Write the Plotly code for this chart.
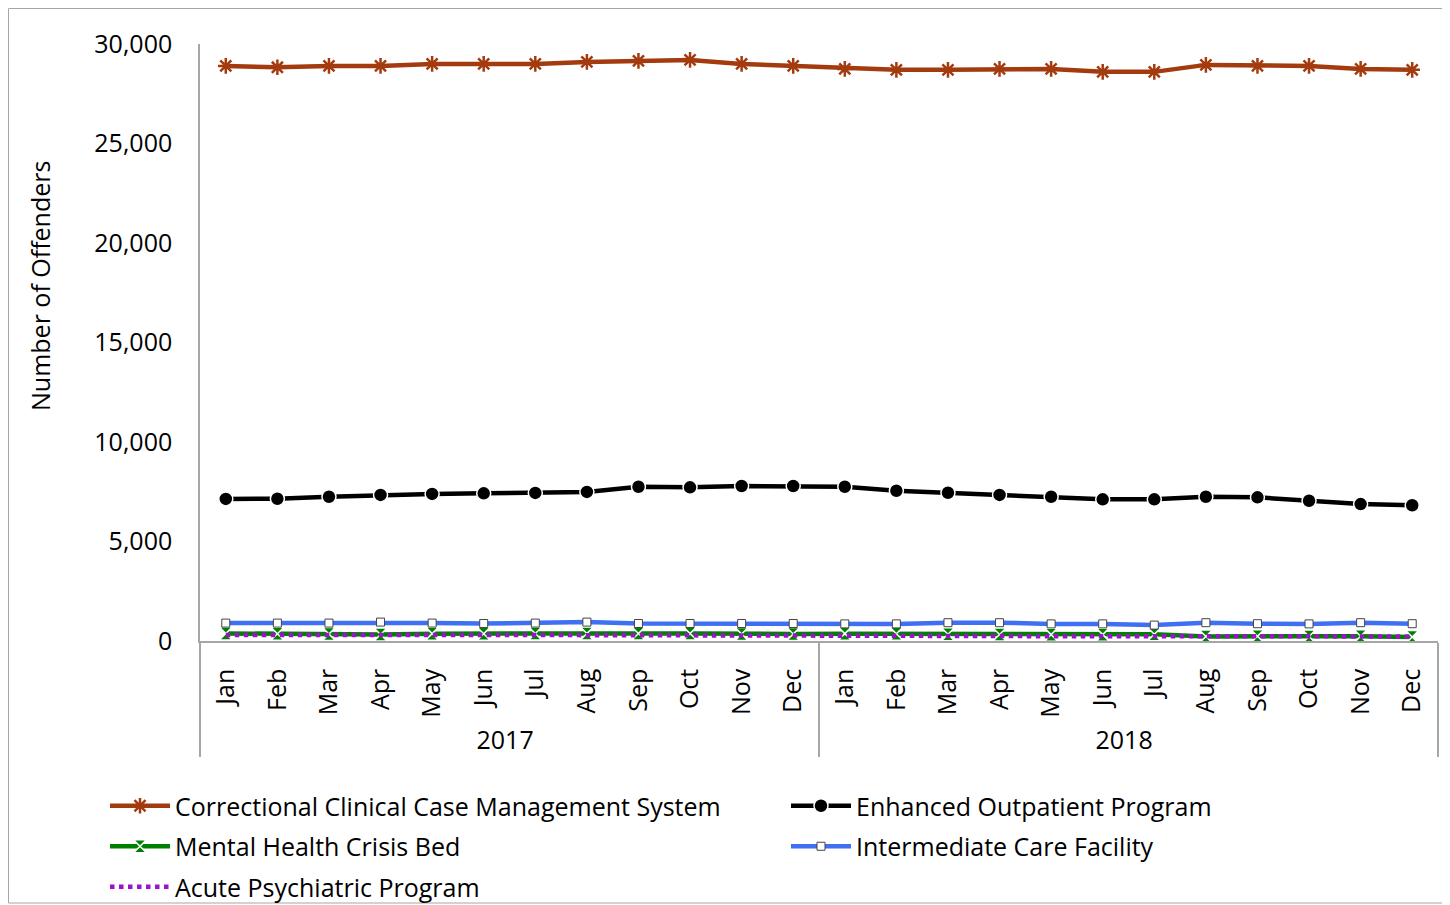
import plotly.graph_objects as go

years = ["2017"] * 12 + ["2018"] * 12
months = ["Jan", "Feb", "Mar", "Apr", "May", "Jun", "Jul", "Aug", "Sep", "Oct", "Nov", "Dec"] * 2

cccms = [28900, 28830, 28900, 28900, 29000, 29000, 29000, 29100, 29150, 29200, 29000, 28900,
         28750, 28700, 28700, 28750, 28750, 28600, 28600, 28950, 28900, 28900, 28750, 28700]
eop = [7140, 7150, 7250, 7340, 7390, 7420, 7440, 7490, 7750, 7720, 7790, 7790,
       7750, 7550, 7450, 7340, 7250, 7120, 7120, 7250, 7220, 7050, 6880, 6820]
mhcb = [380, 360, 350, 330, 370, 360, 380, 380, 380, 380, 350, 350,
        370, 360, 340, 330, 320, 320, 340, 230, 240, 230, 240, 200]
icf = [900, 900, 900, 950, 900, 880, 900, 950, 880, 880, 880, 880,
       860, 860, 920, 920, 860, 860, 800, 920, 870, 860, 920, 870]
app = [300, 290, 280, 280, 300, 300, 300, 300, 300, 290, 280, 290,
       290, 280, 260, 250, 240, 240, 260, 240, 240, 230, 230, 230]

x = [years, months]
font_family = "Open Sans"
fs = 25

fig = go.Figure()

fig.add_trace(go.Scatter(x=x, y=cccms, name="Correctional Clinical Case Management System",
                         mode="lines+markers", legend="legend", legendgroup="a",
                         line=dict(color="#A33B0F", width=4.5),
                         marker=dict(symbol="asterisk-open", size=13, color="#A33B0F",
                                     line=dict(color="#A33B0F", width=2.5))))
fig.add_trace(go.Scatter(x=x, y=eop, name="Enhanced Outpatient Program",
                         mode="lines+markers", legend="legend2", legendgroup="b",
                         line=dict(color="black", width=4.5),
                         marker=dict(symbol="circle", size=14, color="black",
                                     line=dict(color="white", width=1.5))))
fig.add_trace(go.Scatter(x=x, y=mhcb, name="Mental Health Crisis Bed",
                         mode="lines+markers", legend="legend", legendgroup="c",
                         line=dict(color="#008000", width=4.5),
                         marker=dict(symbol="hourglass", size=13, color="#008000",
                                     line=dict(color="white", width=1.5))))
fig.add_trace(go.Scatter(x=x, y=icf, name="Intermediate Care Facility",
                         mode="lines+markers", legend="legend2", legendgroup="d",
                         line=dict(color="#3F6FF2", width=4.5),
                         marker=dict(symbol="square", size=8, color="white",
                                     line=dict(color="#444444", width=1))))
fig.add_trace(go.Scatter(x=x, y=app, name="Acute Psychiatric Program",
                         mode="lines", legend="legend", legendgroup="e",
                         line=dict(color="#9A12C9", width=4.5, dash="dot")))

# page body has an 8px offset; plot area spans 1238 x 597 px
W, H = 1442, 897
L, T, PW, PH = 192, 36, 1238, 597


def px(xp):
    return (xp - 8 - L) / PW


def py(yp):
    return (T + PH - (yp - 8)) / PH


def cy(yp):
    return (H - (yp - 8)) / H


# outer chart border
fig.add_shape(type="rect", xref="paper", yref="paper",
              x0=px(8.5), x1=px(1448), y0=py(903), y1=py(8.5),
              line=dict(color="#A6A6A6", width=1), layer="below")

# y-axis title
fig.add_annotation(text="Number of Offenders", textangle=-90, showarrow=False,
                   xref="paper", yref="paper", x=px(40), y=py(286),
                   xanchor="center", yanchor="middle",
                   font=dict(family=font_family, size=fs, color="black"))

legend_common = dict(orientation="v", yanchor="top", xanchor="left", yref="container",
                     bgcolor="rgba(0,0,0,0)", tracegroupgap=5, itemwidth=60,
                     font=dict(family=font_family, size=fs, color="black"))

fig.update_layout(
    width=W, height=H,
    margin=dict(l=L, r=W - L - PW, t=T, b=H - T - PH),
    paper_bgcolor="white", plot_bgcolor="white",
    font=dict(family=font_family, size=fs, color="black"),
    showlegend=True,
    legend=dict(x=px(105), y=cy(783), **legend_common),
    legend2=dict(x=px(786), y=cy(783), **legend_common),
)

fig.update_xaxes(type="multicategory", range=[-0.5, 23.5], automargin=False,
                 showline=True, linecolor="#A6A6A6", linewidth=1.5,
                 showgrid=False, ticks="", tickangle=-90, ticklabelstandoff=16,
                 showdividers=True, dividercolor="#A6A6A6", dividerwidth=1.5,
                 tickfont=dict(family=font_family, size=fs, color="black"))
fig.update_yaxes(range=[0, 30000], dtick=5000, tickformat=",", showgrid=False,
                 automargin=False,
                 showline=True, linecolor="#A6A6A6", linewidth=1.5, ticks="",
                 zeroline=False, ticklabelstandoff=21,
                 tickfont=dict(family=font_family, size=fs, color="black"))

fig.write_html("out.html")
